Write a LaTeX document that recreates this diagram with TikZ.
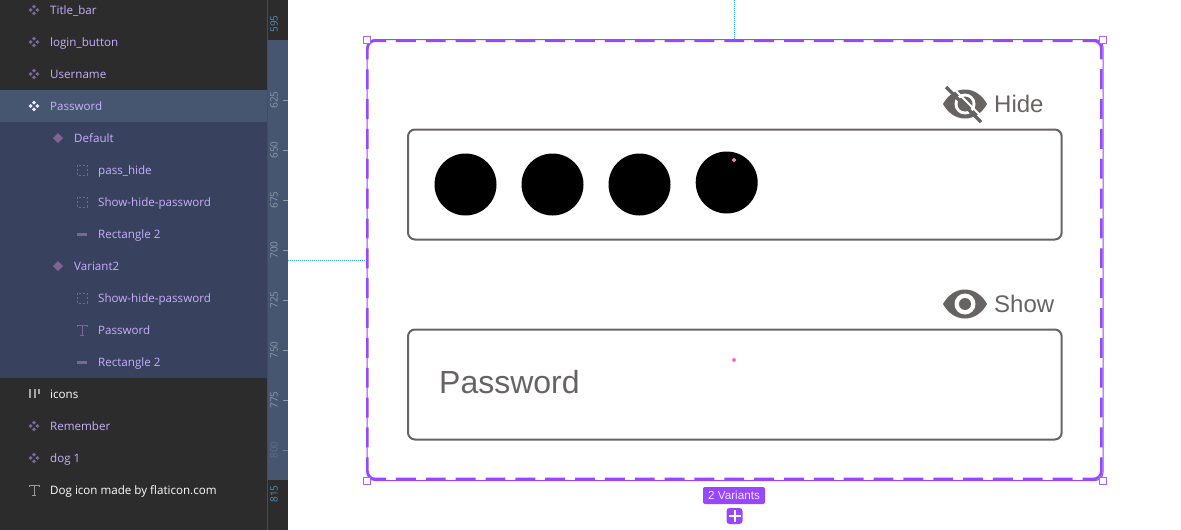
\documentclass[tikz,border=0pt]{standalone}
\usepackage{fontspec}
\usetikzlibrary{shapes.geometric}
\setmainfont{Open Sans}
\newfontfamily\canvasfont{Liberation Sans}
\definecolor{panel}{HTML}{2C2C2C}
\definecolor{rowsel}{HTML}{475670}
\definecolor{rowkid}{HTML}{38415E}
\definecolor{violet}{HTML}{9747FF}
\definecolor{layertxt}{HTML}{C8B0FF}
\definecolor{layericon}{HTML}{7F6496}
\definecolor{inkgrey}{HTML}{676362}
\definecolor{rulertxt}{HTML}{8E99A9}
\definecolor{guideblue}{HTML}{2FA4F0}
\tikzset{
    x=1pt,y=-1pt,
    layer/.style={anchor=base west,inner sep=0pt,font=\fontsize{11.6}{13}\selectfont,text=layertxt},
    tick/.style={rotate=90,inner sep=0pt,font=\fontsize{10}{12}\selectfont,text=rulertxt},
    inkbox/.style={draw=inkgrey,line width=2pt,rounded corners=7pt,minimum width=653.7pt,minimum height=110pt,anchor=north west,inner sep=0pt},
    inklabel/.style={anchor=base west,inner sep=0pt,text=inkgrey},
    dot/.style={circle,fill=black,minimum size=62pt,inner sep=0pt},
    handle/.style={draw=violet!85!white,fill=white,line width=1pt,minimum size=7pt,inner sep=0pt},
    guide/.style={guideblue,line width=1pt,dash pattern=on 1pt off 1pt},
    framedash/.style={violet,line width=2.6pt,dash pattern=on 19.9pt off 9.95pt,dash phase=3pt},
    pinkdot/.style={diamond,fill=magenta!55,minimum size=5pt,inner sep=0pt},
    pics/comp/.style={code={
        \foreach \a/\b in {-3.3/0,3.3/0,0/-3.3,0/3.3}{
            \fill[#1] (\a-2,\b) -- (\a,\b-2) -- (\a+2,\b) -- (\a,\b+2) -- cycle;
        }
    }},
    pics/letter/.style={code={
        \draw[#1,line width=0.7pt] (-5,-3) |- (5,-5) -- (5,-3) (0,-5) -- (0,5) (-2,5) -- (2,5);
    }},
    pics/eye/.style={code={
        \fill[inkgrey] (-22,0) .. controls (-17,-9) and (-9,-14.5) .. (0,-14.5) .. controls (9,-14.5) and (17,-9) .. (22,0) .. controls (17,9) and (9,14.5) .. (0,14.5) .. controls (-9,14.5) and (-17,9) .. (-22,0) -- cycle;
        \fill[white] (0,0) circle (10.5);
        \fill[inkgrey] (0,0) circle (6);
    }},
}
\begin{document}
\begin{tikzpicture}
    \useasboundingbox (0,0) rectangle (1181,530);
    \fill[white] (0,0) rectangle (1181,530);
    % layers panel
    \fill[panel] (0,0) rectangle (267,530);
    \fill[rowsel] (0,90) rectangle (267,122);
    \fill[rowkid] (0,122) rectangle (267,378);
    % ruler
    \fill[panel] (267,0) rectangle (288,530);
    \fill[rowsel] (267,40) rectangle (288,480);
    \draw[gray!60!black,line width=1pt] (267,0) -- (267,530);
    \foreach \y/\lab in {100/625,150/650,200/675,250/700,300/725,350/750,400/775}{
        \node[tick] (r\lab) at (274,\y) {\lab};
        \draw[rulertxt,line width=0.8pt] (283,\y) -- (288,\y);
    }
    \node[tick,text=rulertxt!35!rowsel] (r800) at (274,450) {800};
    \draw[rulertxt!60!rowsel,line width=0.8pt] (283,450) -- (288,450);
    \node[tick,text=guideblue!50!gray] (r595) at (274,24) {595};
    \node[tick,text=guideblue!50!gray] (r815) at (274,494) {815};
    % layer names
    \foreach \i/\x/\lab in {0/50/Title\_bar,1/50/login\_button,2/50/Username,3/50/Password,4/74/Default,5/98/pass\_hide,6/98/Show-hide-password,7/98/Rectangle 2,8/74/Variant2,9/98/Show-hide-password,10/98/Password,11/98/Rectangle 2,13/50/Remember,14/50/dog 1}{
        \node[layer] (row\i) at (\x,14+32*\i) {\lab};
    }
    \node[layer,text=white] (row12) at (50,398) {icons};
    \node[layer,text=white] (row15) at (50,494) {Dog icon made by flaticon.com};
    % layer icons
    \foreach \y in {10,42,74,426,458}{
        \pic at (34,\y) {comp=layericon};
    }
    \pic at (34,106) {comp=white!75!layertxt};
    \foreach \y in {138,266}{
        \fill[layericon] (53,\y) -- (58,\y-5) -- (63,\y) -- (58,\y+5) -- cycle;
    }
    \foreach \y in {170,202,298}{
        \draw[layericon,line width=0.8pt,dash pattern=on 2pt off 2pt] (77,\y-5) rectangle (87,\y+5);
    }
    \foreach \y in {234,362}{
        \fill[layericon] (77,\y-1.5) rectangle (87,\y+1.5);
    }
    \pic at (82,330) {letter=layericon};
    \pic at (34,490) {letter=gray!80};
    \foreach \x/\h in {30/9,35/9,39/5}{
        \fill[gray!70] (\x-1,389) rectangle (\x+1,389+\h);
    }
    % frame of the component set
    \draw[violet,line width=1pt,rounded corners=8pt] (367,39.5) rectangle (1103,480.5);
    \draw[framedash] (369.7,43) .. controls (371.2,41.5) and (373,40.7) .. (375.4,40.7) -- (1093.1,40.7) .. controls (1095.5,40.7) and (1097.5,41.5) .. (1099,43);
    \draw[framedash] (369.7,476.7) .. controls (371.2,478.2) and (373,479) .. (375.4,479) -- (1093.1,479) .. controls (1095.5,479) and (1097.5,478.2) .. (1099,476.7);
    \draw[framedash] (369.7,43) .. controls (368.2,44.5) and (367.4,46.4) .. (367.4,48.7) -- (367.4,471) .. controls (367.4,473.3) and (368.2,475.2) .. (369.7,476.7);
    \draw[framedash] (1099,43) .. controls (1100.5,44.5) and (1101.4,46.4) .. (1101.4,48.7) -- (1101.4,471) .. controls (1101.4,473.3) and (1100.5,475.2) .. (1099,476.7);
    \foreach \n/\x/\y in {nw/366.5/40,ne/1102.7/40,sw/366.5/480.5,se/1102.7/480.5}{
        \node[handle] (\n) at (\x,\y) {};
    }
    % guides
    \coordinate (topfree) at (734,0);
    \coordinate (topend) at (734,39);
    \coordinate (leftfree) at (288,260);
    \coordinate (leftend) at (366,260);
    \draw[guide] (topfree) -- (topend);
    \draw[guide] (leftfree) -- (leftend);
    % default variant
    \node[inkbox] (boxhide) at (407,128.5) {};
    \foreach \n/\x/\y in {1/465.5/184.5,2/552.5/184.5,3/639.5/184.5,4/726.7/182.5}{
        \node[dot] (dot\n) at (\x,\y) {};
    }
    \node[pinkdot] (pinkhide) at (734,160) {};
    \pic at (965,104) {eye};
    \fill[inkgrey] (965,104) circle (7.5);
    \draw[white,line width=2pt] (949,84) -- (985,120);
    \draw[inkgrey,line width=3.5pt] (946,87) -- (981,122);
    \node[inklabel,font=\canvasfont\fontsize{24}{28}\selectfont] (hide) at (994,112) {Hide};
    % second variant
    \node[inkbox] (boxshow) at (407,328.5) {};
    \node[pinkdot] (pinkshow) at (734,360) {};
    \pic at (965,304) {eye};
    \node[inklabel,font=\canvasfont\fontsize{24}{28}\selectfont] (show) at (994,312) {Show};
    \node[inklabel,font=\canvasfont\fontsize{32}{38}\selectfont] (pass) at (439,393) {Password};
    % variants badge
    \node[fill=violet,text=white!85!violet,rounded corners=2pt,minimum width=62pt,minimum height=17pt,inner sep=0pt,font=\canvasfont\fontsize{11.7}{13}\selectfont] (badge) at (734,495.5) {2 Variants};
    \node[fill=violet,rounded corners=3pt,minimum size=16pt,inner sep=0pt] (addbtn) at (734.5,516) {};
    \draw[white,line width=2pt] (728.5,516) -- (740.5,516) (734.5,510) -- (734.5,522);
\end{tikzpicture}
\end{document}
